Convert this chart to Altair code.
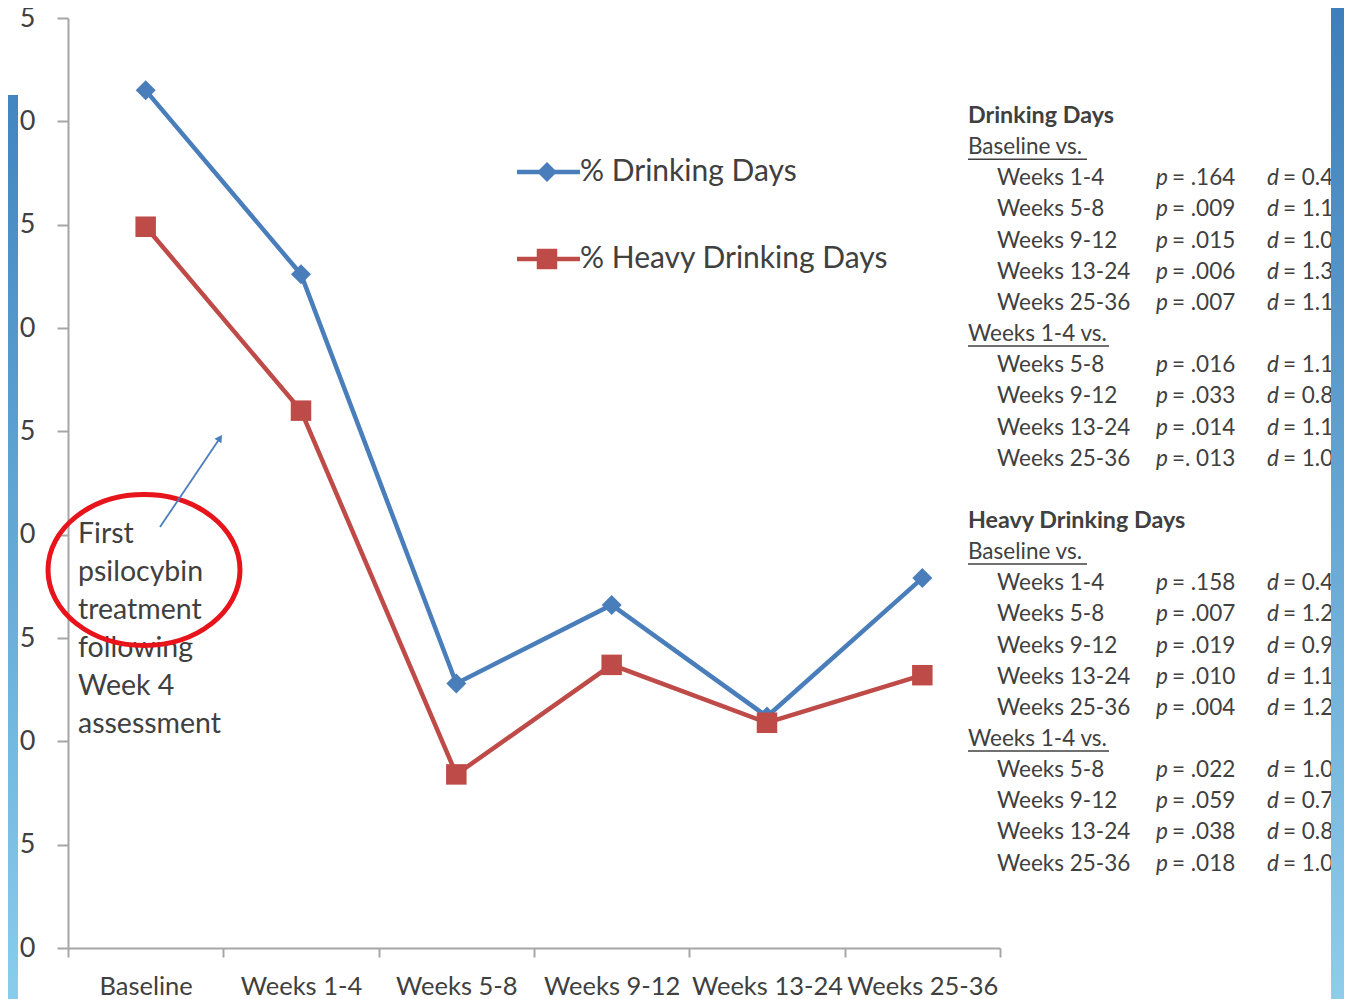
import altair as alt
import pandas as pd

# ---------------- data ----------------
categories = ["Baseline", "Weeks 1-4", "Weeks 5-8", "Weeks 9-12", "Weeks 13-24", "Weeks 25-36"]
drinking_days = [41.5, 32.6, 12.8, 16.6, 11.2, 17.9]
heavy_days = [34.9, 26.0, 8.4, 13.7, 10.9, 13.2]
y_ticks = [0, 5, 10, 15, 20, 25, 30, 35, 40, 45]

series_names = ["% Drinking Days", "% Heavy Drinking Days"]
note_lines = ["First", "psilocybin", "treatment", "following", "Week 4", "assessment"]

# right-hand statistics block: (kind, label, p, d)
stats_rows = [
    ("head", "Drinking Days", "", ""),
    ("sub", "Baseline vs.", "", ""),
    ("row", "Weeks 1-4", "= .164", "= 0.46"),
    ("row", "Weeks 5-8", "= .009", "= 1.15"),
    ("row", "Weeks 9-12", "= .015", "= 1.06"),
    ("row", "Weeks 13-24", "= .006", "= 1.32"),
    ("row", "Weeks 25-36", "= .007", "= 1.13"),
    ("sub", "Weeks 1-4 vs.", "", ""),
    ("row", "Weeks 5-8", "= .016", "= 1.12"),
    ("row", "Weeks 9-12", "= .033", "= 0.85"),
    ("row", "Weeks 13-24", "= .014", "= 1.13"),
    ("row", "Weeks 25-36", "=. 013", "= 1.06"),
    ("gap", "", "", ""),
    ("head", "Heavy Drinking Days", "", ""),
    ("sub", "Baseline vs.", "", ""),
    ("row", "Weeks 1-4", "= .158", "= 0.45"),
    ("row", "Weeks 5-8", "= .007", "= 1.22"),
    ("row", "Weeks 9-12", "= .019", "= 0.95"),
    ("row", "Weeks 13-24", "= .010", "= 1.13"),
    ("row", "Weeks 25-36", "= .004", "= 1.25"),
    ("sub", "Weeks 1-4 vs.", "", ""),
    ("row", "Weeks 5-8", "= .022", "= 1.03"),
    ("row", "Weeks 9-12", "= .059", "= 0.73"),
    ("row", "Weeks 13-24", "= .038", "= 0.83"),
    ("row", "Weeks 25-36", "= .018", "= 1.05"),
]

BLUE = "#4A7EBB"
RED = "#BE4B48"
TXT = "#404040"
AXIS = "#A6A6A6"
FONT = "Lato"

W, H = 932, 930

# ---------------- main series ----------------
df = pd.DataFrame({
    "cat": categories * 2,
    "val": drinking_days + heavy_days,
    "series": [series_names[0]] * 6 + [series_names[1]] * 6,
})

xscale = alt.Scale(domain=categories, paddingInner=0, paddingOuter=0)
yscale = alt.Scale(domain=[0, 45], nice=False, zero=True)
xenc = alt.X("cat:N", sort=categories, scale=xscale,
             axis=alt.Axis(title=None, labelAngle=0, labelFont=FONT, labelFontSize=25.5,
                           labelColor=TXT, tickBand="extent", tickSize=9, tickColor=AXIS,
                           tickWidth=2, domainColor=AXIS, domainWidth=2, labelPadding=17,
                           grid=False))
yenc = alt.Y("val:Q", scale=yscale,
             axis=alt.Axis(title=None, values=y_ticks, labelExpr="toString(datum.value % 10)",
                           labelFont=FONT, labelFontSize=27, labelColor=TXT, tickSize=11,
                           tickColor=AXIS, tickWidth=2, domainColor=AXIS, domainWidth=2,
                           labelPadding=22, grid=False))
xenc_n = alt.X("cat:N", sort=categories, scale=xscale, axis=None)
yenc_n = alt.Y("val:Q", scale=yscale, axis=None)
color = alt.Color("series:N", scale=alt.Scale(domain=series_names, range=[BLUE, RED]), legend=None)

lines = alt.Chart(df).mark_line(strokeWidth=4.5).encode(x=xenc, y=yenc, color=color, detail="series:N")
pts_d = alt.Chart(df).transform_filter(alt.datum.series == series_names[0]).mark_point(
    shape="diamond", size=400, filled=True, opacity=1, color=BLUE).encode(x=xenc_n, y=yenc_n)
pts_h = alt.Chart(df).transform_filter(alt.datum.series == series_names[1]).mark_point(
    shape="square", size=420, filled=True, opacity=1, color=RED).encode(x=xenc_n, y=yenc_n)

PX = lambda f: alt.X(f, scale=None, axis=None)
PY = lambda f: alt.Y(f, scale=None, axis=None)

# ---------------- legend (inside plot) ----------------
leg_df = pd.DataFrame({"name": series_names, "py": [154, 241], "x1": [449, 449], "x2": [512, 512],
                       "mx": [479, 479], "tx": [512, 512]})
leg_line = alt.Chart(leg_df).mark_rule(strokeWidth=4.5).encode(
    x=PX("x1:Q"), x2="x2:Q", y=PY("py:Q"),
    stroke=alt.Stroke("name:N", scale=alt.Scale(domain=series_names, range=[BLUE, RED]), legend=None))
leg_d = alt.Chart(leg_df.iloc[[0]]).mark_point(shape="diamond", size=400, filled=True, opacity=1,
                                               color=BLUE).encode(x=PX("mx:Q"), y=PY("py:Q"))
leg_h = alt.Chart(leg_df.iloc[[1]]).mark_point(shape="square", size=420, filled=True, opacity=1,
                                               color=RED).encode(x=PX("mx:Q"), y=PY("py:Q"))
leg_txt = alt.Chart(leg_df).mark_text(align="left", baseline="middle", font=FONT, fontSize=30,
                                      color=TXT).encode(x=PX("tx:Q"), y=PY("py:Q"), text="name:N")

# ---------------- annotation note ----------------
note_df = pd.DataFrame({"t": note_lines, "py": [516 + 38 * i for i in range(len(note_lines))],
                        "px": [10] * len(note_lines)})
note = alt.Chart(note_df).mark_text(align="left", baseline="middle", font=FONT, fontSize=28.5,
                                    color=TXT).encode(x=PX("px:Q"), y=PY("py:Q"), text="t:N")

ellipse_path = ("M-1,0 C-1,-0.434 -0.552,-0.786 0,-0.786 C0.552,-0.786 1,-0.434 1,0 "
                "C1,0.434 0.552,0.786 0,0.786 C-0.552,0.786 -1,0.434 -1,0 Z")
deco = pd.DataFrame({"ex": [76], "ey": [552], "ax1": [92], "ay1": [509], "ax2": [152], "ay2": [420]})
ellipse = alt.Chart(deco).mark_point(shape=ellipse_path, size=192 * 192, filled=False,
                                     stroke="#E8141B", strokeWidth=5, opacity=1).encode(
    x=PX("ex:Q"), y=PY("ey:Q"))
arrow = alt.Chart(deco).mark_rule(color=BLUE, strokeWidth=1.8).encode(
    x=PX("ax1:Q"), y=PY("ay1:Q"), x2="ax2:Q", y2="ay2:Q")
arrow_head = alt.Chart(deco).mark_point(shape="triangle-up", size=70, filled=True, opacity=1,
                                        color=BLUE, angle=34).encode(x=PX("ax2:Q"), y=PY("ay2:Q"))

# ---------------- stats block ----------------
recs = []
for i, (kind, lab, p, d) in enumerate(stats_rows):
    recs.append({"kind": kind, "lab": lab, "p": p, "d": d, "py": 98 + 31.15 * i,
                 "hx": 900, "lx": 929, "pix": 1088, "pvx": 1104, "dix": 1199, "dvx": 1215,
                 "uy": 98 + 31.15 * i + 12,
                 "ux2": 1019 if lab == "Baseline vs." else 1041,
                 "pl": "p", "dl": "d"})
st = pd.DataFrame(recs)

def stext(kind, xf, tf, size=22.5, **kw):
    return alt.Chart(st).transform_filter(alt.datum.kind == kind).mark_text(
        align="left", baseline="middle", font=FONT, fontSize=size, color=TXT, **kw).encode(
        x=PX(xf), y=PY("py:Q"), text=tf)

st_head = stext("head", "hx:Q", "lab:N", size=23.3, fontWeight="bold")
st_sub = stext("sub", "hx:Q", "lab:N")
st_under = alt.Chart(st).transform_filter(alt.datum.kind == "sub").mark_rule(
    color=TXT, strokeWidth=1.5).encode(x=PX("hx:Q"), x2="ux2:Q", y=PY("uy:Q"))
st_row = stext("row", "lx:Q", "lab:N")
st_p = stext("row", "pix:Q", "pl:N", fontStyle="italic")
st_pv = stext("row", "pvx:Q", "p:N")
st_d = stext("row", "dix:Q", "dl:N", fontStyle="italic")
st_dv = stext("row", "dvx:Q", "d:N")

# ---------------- slide gradient bars ----------------
grad_l = alt.Gradient(gradient="linear", x1=0, x2=0, y1=0, y2=1,
                      stops=[alt.GradientStop(color="#4285C0", offset=0),
                             alt.GradientStop(color="#88CEEC", offset=1)])
grad_r = alt.Gradient(gradient="linear", x1=0, x2=0, y1=0, y2=1,
                      stops=[alt.GradientStop(color="#3E7FBB", offset=0),
                             alt.GradientStop(color="#8ECDEB", offset=1)])
bars = pd.DataFrame({"x1": [-60], "x2": [-50], "y1": [77], "y2": [990],
                     "rx1": [1263], "rx2": [1290], "ry1": [-10], "ry2": [990]})
bar_l = alt.Chart(bars).mark_rect(fill=grad_l).encode(
    x=PX("x1:Q"), x2="x2:Q", y=PY("y1:Q"), y2="y2:Q")
bar_r = alt.Chart(bars).mark_rect(fill=grad_r).encode(
    x=PX("rx1:Q"), x2="rx2:Q", y=PY("ry1:Q"), y2="ry2:Q")

chart = alt.layer(
    lines, pts_d, pts_h,
    leg_line, leg_d, leg_h, leg_txt,
    note, ellipse, arrow, arrow_head,
    st_head, st_sub, st_under, st_row, st_p, st_pv, st_d, st_dv,
    bar_l, bar_r,
).resolve_scale(x="independent", y="independent").properties(
    width=W, height=H,
    padding={"left": 60, "top": 10, "right": 344, "bottom": 51},
    autosize="none",
    background="white",
).configure_view(stroke=None)

chart.save("out.html", embed_options={"renderer": "svg", "actions": False})
